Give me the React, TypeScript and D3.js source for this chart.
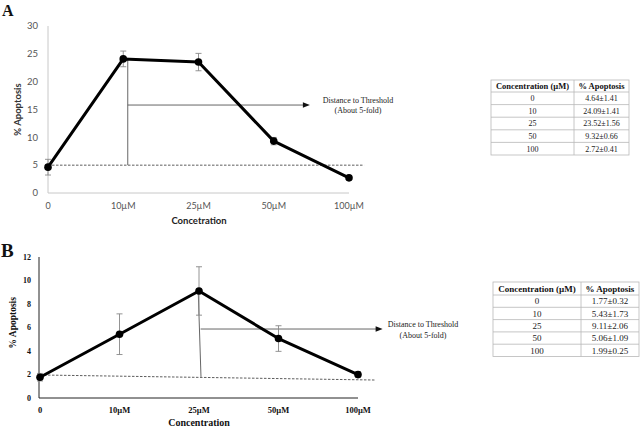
import React from "react";
import * as d3 from "d3";

const categoriesA = ["0", "10µM", "25µM", "50µM", "100µM"];
const meanA = [4.64, 24.09, 23.52, 9.32, 2.72];
const errA = [1.41, 1.41, 1.56, 0.66, 0.41];
const yTicksA = [0, 5, 10, 15, 20, 25, 30];

const categoriesB = ["0", "10µM", "25µM", "50µM", "100µM"];
const meanB = [1.77, 5.43, 9.11, 5.06, 1.99];
const errB = [0.32, 1.73, 2.06, 1.09, 0.25];
const yTicksB = [0, 2, 4, 6, 8, 10, 12];

const tableConc = ["0", "10", "25", "50", "100"];
const tableA = ["4.64±1.41", "24.09±1.41", "23.52±1.56", "9.32±0.66", "2.72±0.41"];
const tableB = ["1.77±0.32", "5.43±1.73", "9.11±2.06", "5.06±1.09", "1.99±0.25"];

// annotation values (data units / category index units)
const thresholdA = [5, 5];
const thresholdB = [1.96, 1.53];

function Table({ x0, x1, xd, y0, headH, rowH, values, hSize, dSize }: any) {
  const rows = tableConc.length;
  const yEnd = y0 + headH + rows * rowH;
  const ys = d3.range(rows + 1).map((i) => y0 + headH + i * rowH);
  const border = "#b8b8b8";
  return (
    <g>
      <rect x={x0} y={y0} width={x1 - x0} height={yEnd - y0} fill="#fff" stroke={border} strokeWidth={0.8} />
      <line x1={xd} x2={xd} y1={y0} y2={yEnd} stroke={border} strokeWidth={0.8} />
      {ys.slice(0, rows).map((y, i) => (
        <line key={i} x1={x0} x2={x1} y1={y} y2={y} stroke={border} strokeWidth={0.8} />
      ))}
      <text x={(x0 + xd) / 2} y={y0 + headH / 2} dy="0.35em" textAnchor="middle" fontFamily="Liberation Serif" fontWeight="bold" fontSize={hSize} fill="#111">
        Concentration (µM)
      </text>
      <text x={(xd + x1) / 2} y={y0 + headH / 2} dy="0.35em" textAnchor="middle" fontFamily="Liberation Serif" fontWeight="bold" fontSize={hSize} fill="#111">
        % Apoptosis
      </text>
      {tableConc.map((c, i) => (
        <g key={c}>
          <text x={(x0 + xd) / 2} y={ys[i] + rowH / 2} dy="0.35em" textAnchor="middle" fontFamily="Liberation Serif" fontSize={dSize} fill="#222">{c}</text>
          <text x={(xd + x1) / 2} y={ys[i] + rowH / 2} dy="0.35em" textAnchor="middle" fontFamily="Liberation Serif" fontSize={dSize} fill="#222">{values[i]}</text>
        </g>
      ))}
    </g>
  );
}

function Arrow({ x1, x2, y, color }: any) {
  return (
    <g>
      <line x1={x1} x2={x2 - 6} y1={y} y2={y} stroke={color} strokeWidth={0.9} />
      <path d={`M${x2},${y} L${x2 - 7},${y - 2.8} L${x2 - 7},${y + 2.8} Z`} fill="#111" />
    </g>
  );
}

export default function App() {
  // Panel A
  const xA = d3.scalePoint<string>().domain(categoriesA).range([48, 349]).padding(0);
  const iA = d3.scaleLinear().domain([0, 4]).range([48, 349]);
  const yA = d3.scaleLinear().domain([0, 30]).range([193, 26]);
  const lineA = d3.line<number>().x((_, i) => xA(categoriesA[i])!).y((d) => yA(d));

  // Panel B
  const xB = d3.scalePoint<string>().domain(categoriesB).range([40, 358]).padding(0);
  const iB = d3.scaleLinear().domain([0, 4]).range([40, 358]);
  const yB = d3.scaleLinear().domain([0, 12]).range([398, 257]);
  const lineB = d3.line<number>().x((_, i) => xB(categoriesB[i])!).y((d) => yB(d));

  const sansA = "Lato, 'Open Sans', sans-serif";
  const serif = "'Liberation Serif', 'Times New Roman', serif";

  return (
    <svg width={644} height={428} style={{ position: "absolute", left: 0, top: 0, background: "#fff" }}>
      <rect width={644} height={428} fill="#fff" />
      {/* ---------- Panel A ---------- */}
      <text x={2} y={16} fontFamily={serif} fontWeight="bold" fontSize={16} fill="#111">A</text>
      <line x1={48} x2={48} y1={yA(30)} y2={yA(0)} stroke="#c8c8c8" strokeWidth={1} />
      <line x1={48} x2={xA("100µM")!} y1={yA(0)} y2={yA(0)} stroke="#c8c8c8" strokeWidth={1} />
      {yTicksA.map((t) => (
        <text key={t} x={38} y={yA(t)} dy="0.35em" textAnchor="end" fontFamily={sansA} fontSize={9.5} fill="#555">{t}</text>
      ))}
      {categoriesA.map((c) => (
        <text key={c} x={xA(c)} y={206} dy="0.35em" textAnchor="middle" fontFamily={sansA} fontSize={9} fill="#555">{c}</text>
      ))}
      <text x={199} y={221} dy="0.35em" textAnchor="middle" fontFamily={sansA} fontWeight="bold" fontSize={9.5} fill="#222">Concetration</text>
      <text transform={`translate(18,${yA(15)}) rotate(-90)`} dy="0.35em" textAnchor="middle" fontFamily={sansA} fontWeight="bold" fontSize={9.5} fill="#333">% Apoptosis</text>
      {/* threshold */}
      <line x1={iA(0)} x2={iA(4.2)} y1={yA(thresholdA[0])} y2={yA(thresholdA[1])} stroke="#333" strokeWidth={0.8} strokeDasharray="2.5,1.5" />
      {/* vertical distance line */}
      <line x1={iA(1.06)} x2={iA(1.06)} y1={yA(meanA[1])} y2={yA(thresholdA[0])} stroke="#555" strokeWidth={0.9} />
      <Arrow x1={iA(1.06)} x2={iA(3.48)} y={yA(15.8)} color="#555" />
      <text x={358} y={100} dy="0.35em" textAnchor="middle" fontFamily={serif} fontSize={8} fill="#222">Distance to Threshold</text>
      <text x={358} y={110} dy="0.35em" textAnchor="middle" fontFamily={serif} fontSize={8} fill="#222">(About 5-fold)</text>
      {/* error bars */}
      {meanA.map((m, i) => {
        const x = xA(categoriesA[i])!;
        return (
          <g key={i} stroke="#888" strokeWidth={0.9}>
            <line x1={x} x2={x} y1={yA(m + errA[i])} y2={yA(m - errA[i])} />
            <line x1={x - 3} x2={x + 3} y1={yA(m + errA[i])} y2={yA(m + errA[i])} />
            <line x1={x - 3} x2={x + 3} y1={yA(m - errA[i])} y2={yA(m - errA[i])} />
          </g>
        );
      })}
      <path d={lineA(meanA)!} fill="none" stroke="#000" strokeWidth={3} strokeLinejoin="round" />
      {meanA.map((m, i) => (
        <circle key={i} cx={xA(categoriesA[i])} cy={yA(m)} r={3.8} fill="#000" />
      ))}
      <Table x0={491} x1={629} xd={574} y0={80} headH={12} rowH={12.6} values={tableA} hSize={8.5} dSize={8} />

      {/* ---------- Panel B ---------- */}
      <text x={1} y={257} fontFamily={serif} fontWeight="bold" fontSize={19} fill="#111">B</text>
      <line x1={39} x2={39} y1={yB(12)} y2={yB(0)} stroke="#222" strokeWidth={1} />
      <line x1={39} x2={xB("100µM")!} y1={yB(0)} y2={yB(0)} stroke="#222" strokeWidth={1} />
      {yTicksB.map((t) => (
        <text key={t} x={31} y={yB(t)} dy="0.35em" textAnchor="end" fontFamily={serif} fontWeight="bold" fontSize={8} fill="#111">{t}</text>
      ))}
      {categoriesB.map((c) => (
        <text key={c} x={xB(c)} y={410} dy="0.35em" textAnchor="middle" fontFamily={serif} fontWeight="bold" fontSize={8.5} fill="#111">{c}</text>
      ))}
      <text x={199} y={422} dy="0.35em" textAnchor="middle" fontFamily={serif} fontWeight="bold" fontSize={10} fill="#111">Concentration</text>
      <text transform={`translate(13,${yB(6.4)}) rotate(-90)`} dy="0.35em" textAnchor="middle" fontFamily={serif} fontWeight="bold" fontSize={9.5} fill="#111">% Apoptosis</text>
      <line x1={iB(0)} x2={iB(4.21)} y1={yB(thresholdB[0])} y2={yB(thresholdB[1])} stroke="#333" strokeWidth={0.8} strokeDasharray="2.5,1.5" />
      <line x1={iB(1.99)} x2={iB(2.025)} y1={yB(meanB[2])} y2={yB(1.8)} stroke="#555" strokeWidth={0.9} />
      <Arrow x1={iB(2.02)} x2={iB(4.31)} y={yB(5.87)} color="#555" />
      <text x={423} y={324} dy="0.35em" textAnchor="middle" fontFamily={serif} fontSize={8} fill="#222">Distance to Threshold</text>
      <text x={423} y={335} dy="0.35em" textAnchor="middle" fontFamily={serif} fontSize={8} fill="#222">(About 5-fold)</text>
      {meanB.map((m, i) => {
        const x = xB(categoriesB[i])!;
        return (
          <g key={i} stroke="#888" strokeWidth={0.9}>
            <line x1={x} x2={x} y1={yB(m + errB[i])} y2={yB(m - errB[i])} />
            <line x1={x - 3} x2={x + 3} y1={yB(m + errB[i])} y2={yB(m + errB[i])} />
            <line x1={x - 3} x2={x + 3} y1={yB(m - errB[i])} y2={yB(m - errB[i])} />
          </g>
        );
      })}
      <path d={lineB(meanB)!} fill="none" stroke="#000" strokeWidth={3} strokeLinejoin="round" />
      {meanB.map((m, i) => (
        <circle key={i} cx={xB(categoriesB[i])} cy={yB(m)} r={3.8} fill="#000" />
      ))}
      <Table x0={493} x1={639} xd={581} y0={282} headH={13} rowH={12.3} values={tableB} hSize={9} dSize={9} />
    </svg>
  );
}
